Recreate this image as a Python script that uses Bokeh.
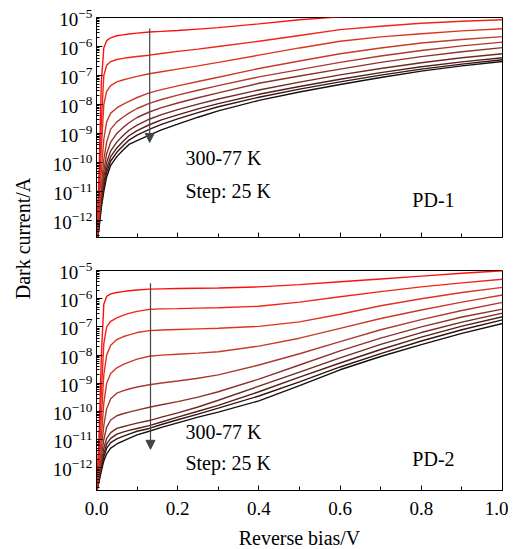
import math
from bokeh.plotting import figure
from bokeh.layouts import row, column
from bokeh.models import (Range1d, FixedTicker, Label, Arrow, NormalHead,
                          PrintfTickFormatter, CustomJSTickFormatter, ColumnDataSource)
from bokeh.embed import file_html
from bokeh.resources import INLINE

FONT = "Liberation Serif"

# ---------------- data (log10 of dark current in A) ----------------
TEMPS = [300, 275, 250, 225, 200, 175, 150, 125, 100, 77]
COLORS = ["#ff1010", "#f02418", "#de3322", "#c83a2a", "#ac3a2c",
          "#8e3229", "#702a22", "#52201a", "#361511", "#121212"]

BIAS = [0.0, 0.006, 0.012, 0.018, 0.025, 0.035, 0.05, 0.065, 0.08, 0.1, 0.13,
        0.16, 0.2, 0.25, 0.3, 0.4, 0.5, 0.6, 0.7, 0.8, 0.9, 1.0]

PD1_300K = [-12.9, -10.5, -7.2, -6.05, -5.8, -5.7, -5.63, -5.60, -5.57, -5.54, -5.50, -5.48, -5.45, -5.40, -5.35, -5.22, -5.08, -4.98, -4.95, -4.93, -4.91, -4.89]
PD1_275K = [-12.9, -11.0, -8.6, -7.0, -6.65, -6.52, -6.45, -6.41, -6.38, -6.345, -6.30, -6.24, -6.17, -6.09, -6.0, -5.82, -5.62, -5.42, -5.30, -5.20, -5.13, -5.08]
PD1_250K = [-12.9, -11.3, -9.5, -8.0, -7.55, -7.35, -7.22, -7.155, -7.10, -7.03, -6.94, -6.87, -6.78, -6.67, -6.55, -6.30, -6.05, -5.82, -5.67, -5.56, -5.46, -5.39]
PD1_225K = [-12.9, -11.6, -10.3, -9.2, -8.6, -8.3, -8.12, -8.0, -7.89, -7.76, -7.60, -7.49, -7.36, -7.21, -7.06, -6.76, -6.50, -6.25, -6.05, -5.88, -5.76, -5.66]
PD1_200K = [-12.9, -11.8, -10.8, -9.9, -9.3, -8.85, -8.6, -8.44, -8.3, -8.14, -7.96, -7.83, -7.68, -7.51, -7.35, -7.05, -6.8, -6.55, -6.33, -6.14, -5.98, -5.85]
PD1_175K = [-12.9, -11.9, -11.0, -10.3, -9.7, -9.3, -9.0, -8.8, -8.63, -8.45, -8.26, -8.11, -7.95, -7.77, -7.6, -7.27, -7.02, -6.78, -6.55, -6.35, -6.18, -6.04]
PD1_150K = [-12.9, -12.0, -11.2, -10.5, -10.0, -9.6, -9.3, -9.08, -8.89, -8.71, -8.51, -8.35, -8.18, -7.99, -7.81, -7.5, -7.23, -6.98, -6.76, -6.56, -6.39, -6.25]
PD1_125K = [-12.9, -12.1, -11.35, -10.7, -10.2, -9.8, -9.5, -9.28, -9.08, -8.9, -8.70, -8.53, -8.36, -8.15, -7.97, -7.65, -7.38, -7.13, -6.9, -6.7, -6.53, -6.39]
PD1_100K = [-12.9, -12.2, -11.45, -10.85, -10.35, -9.95, -9.65, -9.43, -9.23, -9.06, -8.86, -8.69, -8.5, -8.28, -8.08, -7.75, -7.47, -7.22, -6.99, -6.78, -6.61, -6.46]
PD1_77K = [-12.9, -12.3, -11.55, -11.0, -10.5, -10.1, -9.8, -9.58, -9.38, -9.25, -9.06, -8.88, -8.68, -8.44, -8.22, -7.86, -7.57, -7.31, -7.07, -6.85, -6.67, -6.52]

PD2_300K = [-12.9, -11.0, -8.0, -6.2, -5.92, -5.83, -5.78, -5.75, -5.72, -5.69, -5.66, -5.65, -5.64, -5.63, -5.62, -5.58, -5.5, -5.4, -5.3, -5.2, -5.1, -5.01]
PD2_275K = [-12.9, -11.4, -9.3, -7.6, -7.0, -6.8, -6.68, -6.59, -6.52, -6.45, -6.38, -6.36, -6.35, -6.335, -6.32, -6.27, -6.12, -5.93, -5.75, -5.58, -5.44, -5.31]
PD2_250K = [-12.9, -11.7, -10.2, -8.7, -8.0, -7.65, -7.45, -7.35, -7.28, -7.2, -7.13, -7.11, -7.09, -7.07, -7.05, -6.98, -6.82, -6.55, -6.25, -6.0, -5.78, -5.6]
PD2_225K = [-12.9, -12.0, -10.9, -9.7, -9.0, -8.65, -8.45, -8.34, -8.25, -8.14, -8.04, -8.0, -7.97, -7.93, -7.88, -7.68, -7.4, -7.05, -6.7, -6.4, -6.12, -5.87]
PD2_200K = [-12.9, -12.1, -11.3, -10.5, -9.9, -9.55, -9.35, -9.27, -9.2, -9.13, -9.05, -8.99, -8.92, -8.82, -8.7, -8.35, -7.95, -7.52, -7.1, -6.74, -6.42, -6.13]
PD2_175K = [-12.9, -12.2, -11.6, -11.0, -10.55, -10.3, -10.15, -10.08, -10.02, -9.95, -9.85, -9.76, -9.65, -9.49, -9.3, -8.85, -8.35, -7.85, -7.4, -7.0, -6.65, -6.37]
PD2_150K = [-12.9, -12.3, -11.8, -11.3, -10.95, -10.75, -10.6, -10.54, -10.48, -10.41, -10.32, -10.2, -10.05, -9.84, -9.6, -9.1, -8.6, -8.1, -7.62, -7.2, -6.83, -6.51]
PD2_125K = [-12.9, -12.4, -11.9, -11.5, -11.15, -10.95, -10.8, -10.73, -10.67, -10.6, -10.5, -10.37, -10.2, -9.99, -9.78, -9.3, -8.78, -8.28, -7.8, -7.36, -6.97, -6.64]
PD2_100K = [-12.9, -12.45, -12.0, -11.6, -11.3, -11.1, -10.97, -10.88, -10.8, -10.7, -10.6, -10.46, -10.29, -10.09, -9.88, -9.45, -8.95, -8.42, -7.95, -7.5, -7.1, -6.75]
PD2_77K = [-12.9, -12.5, -12.1, -11.75, -11.5, -11.3, -11.15, -11.05, -10.95, -10.83, -10.7, -10.56, -10.4, -10.2, -10.02, -9.62, -9.08, -8.52, -8.05, -7.63, -7.23, -6.88]

PD1 = [PD1_300K, PD1_275K, PD1_250K, PD1_225K, PD1_200K,
       PD1_175K, PD1_150K, PD1_125K, PD1_100K, PD1_77K]
PD2 = [PD2_300K, PD2_275K, PD2_250K, PD2_225K, PD2_200K,
       PD2_175K, PD2_150K, PD2_125K, PD2_100K, PD2_77K]

Y_TICKS = [1e-12, 1e-11, 1e-10, 1e-9, 1e-8, 1e-7, 1e-6, 1e-5]
X_TICKS = [0.0, 0.2, 0.4, 0.6, 0.8, 1.0]
X_MINOR = [0.1, 0.3, 0.5, 0.7, 0.9]

Y1_RANGE = (10 ** -12.59, 1e-5)
Y2_RANGE = (10 ** -12.8, 1e-5)

# annotations: (text, x, log10 y)
ANN1 = [("300-77 K", 0.219, -9.83), ("Step: 25 K", 0.219, -10.97), ("PD-1", 0.778, -11.31)]
ANN2 = [("300-77 K", 0.219, -10.74), ("Step: 25 K", 0.219, -11.84), ("PD-2", 0.778, -11.70)]
ARROW1 = (0.131, -5.38, -9.31)
ARROW2 = (0.133, -5.45, -11.34)


def make_panel(curves, yr, ann, arr, show_x_labels, top_border, bottom_border):
    p = figure(frame_width=406, frame_height=220, y_axis_type="log",
               x_range=Range1d(0, 1), y_range=Range1d(*yr),
               output_backend="svg", toolbar_location=None,
               min_border_left=58, min_border_right=6,
               min_border_top=top_border, min_border_bottom=bottom_border)
    p.grid.visible = False
    p.outline_line_color = "black"
    p.outline_line_width = 1
    p.background_fill_color = "white"
    p.border_fill_color = "white"

    minor = [k * t for t in Y_TICKS[:-1] for k in range(2, 10)]
    minor += [k * Y_TICKS[0] / 10 for k in range(2, 10)]
    p.yaxis.ticker = FixedTicker(ticks=Y_TICKS, minor_ticks=minor)
    p.yaxis.major_tick_in = 6
    p.yaxis.major_tick_out = 0
    p.yaxis.minor_tick_in = 3
    p.yaxis.minor_tick_out = 0
    p.yaxis.major_label_standoff = 4
    p.yaxis.major_label_text_font = FONT
    p.yaxis.major_label_text_font_size = "19px"
    p.yaxis.major_label_text_color = "black"

    p.xaxis.ticker = FixedTicker(ticks=X_TICKS, minor_ticks=X_MINOR)
    p.xaxis.major_tick_in = 5
    p.xaxis.major_tick_out = 0
    p.xaxis.minor_tick_in = 4
    p.xaxis.minor_tick_out = 0
    p.xaxis.major_label_text_font = FONT
    p.xaxis.major_label_text_color = "black"
    if show_x_labels:
        p.xaxis.formatter = PrintfTickFormatter(format="%.1f")
        p.xaxis.major_label_text_font_size = "19px"
        p.xaxis.major_label_standoff = 11
        p.xaxis.axis_label = "Reverse bias/V"
        p.xaxis.axis_label_text_font = FONT
        p.xaxis.axis_label_text_font_size = "20px"
        p.xaxis.axis_label_text_font_style = "normal"
        p.xaxis.axis_label_text_color = "black"
        p.xaxis.axis_label_standoff = 9
    else:
        p.xaxis.formatter = CustomJSTickFormatter(code="return ''")
        p.xaxis.major_label_text_font_size = "10px"
        p.xaxis.major_label_standoff = 0
    for ax in (p.xaxis, p.yaxis):
        ax.axis_line_color = "black"
        ax.major_tick_line_color = "black"
        ax.minor_tick_line_color = "black"

    for vals, col in reversed(list(zip(curves, COLORS))):
        src = ColumnDataSource(dict(x=BIAS, y=[10 ** v for v in vals]))
        p.line("x", "y", source=src, line_color=col, line_width=1.4)

    ax_, ys, ye = arr
    p.add_layout(Arrow(end=NormalHead(size=9, fill_color="#444444", line_color="#444444"),
                       x_start=ax_, y_start=10 ** ys, x_end=ax_, y_end=10 ** ye,
                       line_color="#444444", line_width=1.2))
    for txt, x, ly in ann:
        p.add_layout(Label(x=x, y=10 ** ly, text=txt, text_font=FONT,
                           text_font_size="20px", text_baseline="middle",
                           text_color="black"))
    return p


p1 = make_panel(PD1, Y1_RANGE, ANN1, ARROW1, False, 17, 13)
p2 = make_panel(PD2, Y2_RANGE, ANN2, ARROW2, True, 20, 56)

ylab = figure(width=38, height=546, x_range=Range1d(0, 38), y_range=Range1d(546, 0),
              x_axis_location=None, y_axis_location=None, output_backend="svg",
              toolbar_location=None, min_border=0)
ylab.grid.visible = False
ylab.outline_line_color = None
ylab.add_layout(Label(x=22, y=238, text="Dark current/A", angle=math.pi / 2,
                      text_align="center", text_baseline="middle",
                      text_font=FONT, text_font_size="20px", text_color="black"))

layout = row(ylab, column(p1, p2))
open("out.html", "w").write(file_html(layout, INLINE))
